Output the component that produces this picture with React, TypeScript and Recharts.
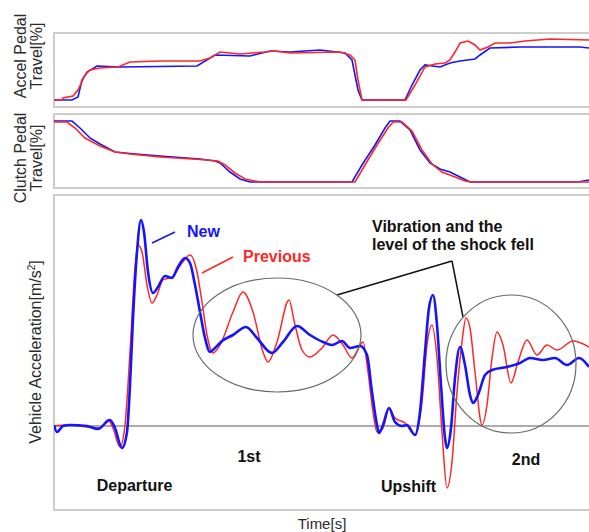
import { LineChart, Line, XAxis, YAxis, ReferenceLine, ReferenceDot } from "recharts";

const BLUE = "#1414ff";
const RED = "#ff2626";
const FONT = "'Liberation Sans', Arial, sans-serif";
const T_MAX = 10.7;

// [time s, accel pedal travel %]
const accelNew: [number, number][] = [
  [0, 9.5], [0.36, 9.5], [0.48, 13.5], [0.56, 36.5], [0.66, 47.3], [0.86, 55.4], [1.32, 54.1],
  [2.86, 55.4], [3.22, 70.3], [3.92, 68.9], [4.32, 75.7], [4.72, 74.3], [5.32, 77.0], [5.82, 73.0],
  [5.96, 63.5], [6.08, 23.0], [6.16, 9.5], [7.02, 9.5], [7.16, 29.7], [7.32, 50.0], [7.42, 56.8],
  [7.72, 54.1], [7.92, 59.5], [8.12, 62.2], [8.42, 64.9], [8.52, 70.3], [8.72, 79.7], [9.32, 81.1],
  [10.52, 81.1], [10.7, 79.7],
];
const accelPrev: [number, number][] = [
  [0, 9.5], [0.16, 9.5], [0.18, 12.2], [0.38, 14.9], [0.48, 23.0], [0.62, 43.2], [0.72, 50.0],
  [0.92, 52.7], [1.28, 54.1], [1.52, 60.8], [2.12, 62.2], [2.92, 62.2], [3.12, 66.2], [3.32, 74.3],
  [3.72, 71.6], [4.22, 74.3], [4.42, 75.7], [4.72, 73.0], [5.72, 74.3], [5.92, 70.3], [6.02, 63.5],
  [6.08, 36.5], [6.16, 9.5], [7.04, 9.5], [7.22, 29.7], [7.42, 54.1], [7.62, 58.1], [7.82, 59.5],
  [7.92, 63.5], [8.02, 74.3], [8.12, 86.5], [8.28, 89.2], [8.42, 83.8], [8.52, 77.0], [8.68, 81.1],
  [8.82, 86.5], [9.12, 86.5], [9.42, 89.2], [9.92, 91.9], [10.7, 90.5],
];

// [time s, clutch pedal travel %]
const clutchNew: [number, number][] = [
  [0, 90.5], [0.36, 90.5], [0.52, 81.1], [0.72, 67.6], [0.92, 59.5], [1.22, 48.6], [1.52, 46.6],
  [2.12, 43.2], [2.92, 39.2], [3.22, 36.5], [3.32, 33.8], [3.52, 21.6], [3.72, 12.2], [3.92, 8.1],
  [5.96, 8.1], [6.16, 31.1], [6.42, 58.1], [6.62, 81.1], [6.72, 90.5], [6.92, 90.5], [7.12, 78.4],
  [7.32, 51.4], [7.52, 33.8], [7.72, 25.7], [7.92, 21.6], [8.12, 14.9], [8.32, 8.1], [10.48, 8.1],
  [10.7, 10.8],
];
const clutchPrev: [number, number][] = [
  [0, 89.2], [0.26, 89.2], [0.42, 81.1], [0.62, 67.6], [0.92, 56.8], [1.22, 48.6], [1.52, 45.9],
  [2.12, 41.9], [2.92, 38.5], [3.28, 36.5], [3.42, 31.1], [3.62, 20.3], [3.82, 12.2], [4.12, 8.1],
  [6.02, 8.1], [6.22, 31.1], [6.46, 58.1], [6.68, 81.1], [6.78, 89.2], [6.96, 89.2], [7.16, 77.0],
  [7.36, 51.4], [7.56, 32.4], [7.76, 21.6], [8.02, 14.9], [8.22, 9.5], [8.36, 8.1], [10.7, 8.1],
];

// [time s, vehicle acceleration m/s2]
const vehNew: [number, number][] = [
  [0, 0.02], [0.06, -0.12], [0.18, 0], [0.32, 0.02], [0.66, 0], [0.88, -0.06], [1.12, 0.12],
  [1.22, -0.04], [1.36, -0.44], [1.46, -0.12], [1.52, 0.82], [1.58, 2.16], [1.66, 3.48], [1.74, 4.12],
  [1.8, 3.88], [1.88, 3.08], [1.98, 2.66], [2.08, 2.78], [2.22, 3.0], [2.36, 2.96], [2.48, 3.18],
  [2.62, 3.36], [2.72, 3.26], [2.82, 2.82], [2.92, 2.28], [3.02, 1.76], [3.12, 1.48], [3.22, 1.56],
  [3.36, 1.7], [3.58, 1.82], [3.84, 1.98], [4.06, 1.76], [4.36, 1.46], [4.58, 1.68], [4.86, 2.0],
  [5.12, 1.82], [5.38, 1.68], [5.56, 1.62], [5.76, 1.7], [5.92, 1.56], [6.12, 1.6], [6.26, 1.42],
  [6.36, 0.68], [6.46, 0.02], [6.5, -0.14], [6.58, 0.02], [6.7, 0.36], [6.82, 0.08], [6.96, 0],
  [7.06, 0.02], [7.22, -0.18], [7.32, 0.28], [7.42, 1.48], [7.5, 2.36], [7.58, 2.62], [7.66, 2.02],
  [7.74, 0.82], [7.82, -0.24], [7.86, -0.44], [7.94, -0.04], [8.02, 0.96], [8.12, 1.58], [8.22, 1.22],
  [8.32, 0.62], [8.38, 0.46], [8.48, 0.62], [8.62, 1.02], [8.76, 1.12], [9.06, 1.18], [9.32, 1.26],
  [9.52, 1.36], [9.78, 1.32], [10.02, 1.36], [10.26, 1.22], [10.5, 1.36], [10.7, 1.18],
];
const vehPrev: [number, number][] = [
  [0, 0], [0.26, 0.02], [0.92, -0.04], [1.08, 0.12], [1.18, -0.04], [1.32, -0.42], [1.42, 0.02],
  [1.52, 1.48], [1.62, 3.16], [1.68, 3.62], [1.76, 3.48], [1.86, 2.82], [1.96, 2.46], [2.06, 2.62],
  [2.18, 2.92], [2.36, 2.98], [2.56, 3.26], [2.72, 3.42], [2.86, 3.08], [2.96, 2.48], [3.06, 1.82],
  [3.18, 1.46], [3.32, 1.62], [3.58, 2.28], [3.78, 2.68], [3.98, 2.28], [4.18, 1.48], [4.28, 1.28],
  [4.46, 1.68], [4.7, 2.52], [4.82, 2.02], [4.96, 1.52], [5.12, 1.38], [5.36, 1.56], [5.58, 1.82],
  [5.78, 1.62], [5.96, 1.36], [6.18, 1.68], [6.28, 1.08], [6.38, 0.28], [6.46, -0.12], [6.58, -0.04],
  [6.7, 0.36], [6.82, 0.16], [7.02, 0.06], [7.22, -0.18], [7.36, 0.48], [7.46, 1.62], [7.56, 2.02],
  [7.66, 1.36], [7.76, -0.12], [7.86, -1.24], [7.96, -0.72], [8.06, 0.68], [8.16, 1.68], [8.24, 2.16],
  [8.32, 1.96], [8.42, 1.08], [8.56, 0.02], [8.66, 0.42], [8.76, 1.36], [8.86, 1.88], [8.98, 1.62],
  [9.14, 0.86], [9.28, 1.28], [9.46, 1.72], [9.66, 1.42], [9.86, 1.62], [10.06, 1.52], [10.38, 1.7],
  [10.7, 1.58],
];

const rows = (pts: [number, number][]) => pts.map(([t, v]) => ({ t, v }));

type TitleLine = { text: string; x: number; sup?: string };

// rotated y-axis title, one <text> per line
const axisTitle = (lines: TitleLine[], cy: number) => () => (
  <g>
    {lines.map((l) => (
      <text
        key={l.text}
        x={l.x}
        y={cy}
        transform={`rotate(-90 ${l.x} ${cy})`}
        textAnchor="middle"
        fontSize={16}
        fontFamily={FONT}
        fill="#2b2b2b"
      >
        {l.text}
        {l.sup && (
          <>
            <tspan dy={-6} fontSize={10}>{l.sup}</tspan>
            <tspan dy={6}>]</tspan>
          </>
        )}
      </text>
    ))}
  </g>
);

const note = (text: string, color: string, anchor: "start" | "middle" = "start") =>
  (p: any) => (
    <text x={p.cx} y={p.cy} fill={color} fontSize={16} fontWeight="bold" fontFamily={FONT} textAnchor={anchor}>
      {text}
    </text>
  );

const ellipse = (rx: number, ry: number) => (p: any) => (
  <ellipse cx={p.cx} cy={p.cy} rx={rx} ry={ry} fill="none" stroke="#6a6a6a" strokeWidth={1.2} />
);

const boxStyle = (top: number, height: number): React.CSSProperties => ({
  position: "absolute",
  left: 53,
  top,
  width: 545,
  height,
  border: "2px solid #cdcdcd",
  boxSizing: "border-box",
});

const abs = (top: number): React.CSSProperties => ({ position: "absolute", left: 0, top });

export default function App() {
  return (
    <div style={{ position: "absolute", left: 0, top: 0, width: 589, height: 532, overflow: "hidden", background: "#fff" }}>
      <div style={boxStyle(32, 76)} />
      <div style={boxStyle(113, 76)} />
      <div style={boxStyle(194, 317)} />

      <div style={abs(0)}>
        <LineChart width={589} height={110} margin={{ top: 33, right: 0, bottom: 3, left: 0 }}>
          <XAxis type="number" dataKey="t" domain={[0, T_MAX]} hide allowDataOverflow />
          <YAxis
            type="number"
            domain={[0, 100]}
            width={54}
            tick={false}
            tickLine={false}
            axisLine={false}
            label={axisTitle([{ text: "Accel Pedal", x: 26, sup: undefined }, { text: "Travel[%]", x: 41.5 }], 56)}
          />
          <Line data={rows(accelNew)} dataKey="v" type="linear" stroke={BLUE} strokeWidth={1.6} dot={false} activeDot={false} isAnimationActive={false} />
          <Line data={rows(accelPrev)} dataKey="v" type="linear" stroke={RED} strokeWidth={1.6} dot={false} activeDot={false} isAnimationActive={false} />
        </LineChart>
      </div>

      <div style={abs(110)}>
        <LineChart width={589} height={100} margin={{ top: 4, right: 0, bottom: 22, left: 0 }}>
          <XAxis type="number" dataKey="t" domain={[0, T_MAX]} hide allowDataOverflow />
          <YAxis
            type="number"
            domain={[0, 100]}
            width={54}
            tick={false}
            tickLine={false}
            axisLine={false}
            label={axisTitle([{ text: "Clutch Pedal", x: 26 }, { text: "Travel[%]", x: 41.5 }], 48)}
          />
          <Line data={rows(clutchNew)} dataKey="v" type="linear" stroke={BLUE} strokeWidth={1.6} dot={false} activeDot={false} isAnimationActive={false} />
          <Line data={rows(clutchPrev)} dataKey="v" type="linear" stroke={RED} strokeWidth={1.6} dot={false} activeDot={false} isAnimationActive={false} />
        </LineChart>
      </div>

      <div style={abs(190)}>
        <LineChart width={589} height={342} margin={{ top: 5, right: 0, bottom: 0, left: 0 }}>
          <XAxis
            type="number"
            dataKey="t"
            domain={[0, T_MAX]}
            height={21}
            tick={false}
            tickLine={false}
            axisLine={false}
            allowDataOverflow
            label={() => (
              <text x={322} y={339} textAnchor="middle" fontSize={15} fontFamily={FONT} fill="#2b2b2b">
                Time[s]
              </text>
            )}
          />
          <YAxis
            type="number"
            domain={[-1.7, 4.62]}
            width={54}
            tick={false}
            tickLine={false}
            axisLine={false}
            allowDataOverflow
            label={axisTitle([{ text: "Vehicle Acceleration[m/s", x: 41, sup: "2" }], 162)}
          />
          <ReferenceLine y={0} stroke="#5a5a5a" strokeWidth={1.2} />
          <Line data={rows(vehPrev)} dataKey="v" type="monotone" stroke={RED} strokeWidth={1.5} dot={false} activeDot={false} isAnimationActive={false} />
          <Line data={rows(vehNew)} dataKey="v" type="monotone" stroke={BLUE} strokeWidth={2.6} dot={false} activeDot={false} isAnimationActive={false} />

          <ReferenceDot x={4.46} y={1.82} r={0} shape={ellipse(84, 57)} />
          <ReferenceDot x={9.14} y={1.24} r={0} shape={ellipse(65, 69)} />

          <ReferenceLine segment={[{ x: 1.96, y: 3.66 }, { x: 2.42, y: 3.88 }]} stroke={BLUE} strokeWidth={1.5} />
          <ReferenceLine segment={[{ x: 2.96, y: 3.06 }, { x: 3.58, y: 3.38 }]} stroke={RED} strokeWidth={1.5} />
          <ReferenceLine segment={[{ x: 5.66, y: 2.62 }, { x: 7.96, y: 3.3 }]} stroke="#111" strokeWidth={1.5} />
          <ReferenceLine segment={[{ x: 7.96, y: 3.3 }, { x: 8.18, y: 2.18 }]} stroke="#111" strokeWidth={1.5} />

          <ReferenceDot x={2.66} y={3.78} r={0} shape={note("New", BLUE)} />
          <ReferenceDot x={3.78} y={3.28} r={0} shape={note("Previous", RED)} />
          <ReferenceDot x={6.36} y={3.88} r={0} shape={note("Vibration and the", "#111")} />
          <ReferenceDot x={6.36} y={3.52} r={0} shape={note("level of the shock fell", "#111")} />
          <ReferenceDot x={3.9} y={-0.72} r={0} shape={note("1st", "#111", "middle")} />
          <ReferenceDot x={1.61} y={-1.3} r={0} shape={note("Departure", "#111", "middle")} />
          <ReferenceDot x={7.09} y={-1.32} r={0} shape={note("Upshift", "#111", "middle")} />
          <ReferenceDot x={9.44} y={-0.78} r={0} shape={note("2nd", "#111", "middle")} />
        </LineChart>
      </div>
    </div>
  );
}
